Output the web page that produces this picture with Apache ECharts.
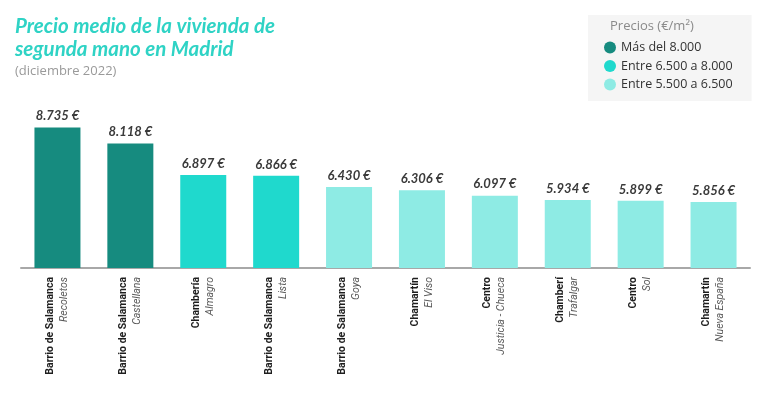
<!DOCTYPE html>
<html>
<head>
<meta charset="utf-8">
<script src="https://cdn.jsdelivr.net/npm/echarts@6/dist/echarts.min.js"></script>
<style>
  html, body { margin: 0; padding: 0; background: #fff; }
  #chart { width: 768px; height: 399px; }
</style>
</head>
<body>
<div id="chart"></div>
<script>
// datos
var districts = ["Barrio de Salamanca", "Barrio de Salamanca", "Chambería", "Barrio de Salamanca", "Barrio de Salamanca",
  "Chamartín", "Centro", "Chamberí", "Centro", "Chamartín"];
var hoods = ["Recoletos", "Castellana", "Almagro", "Lista", "Goya",
  "El Viso", "Justicia - Chueca", "Trafalgar", "Sol", "Nueva España"];
var prices = [8735, 8118, 6897, 6866, 6430, 6306, 6097, 5934, 5899, 5856];
// 0 = más del 8.000, 1 = 6.500-8.000, 2 = 5.500-6.500
var groups = [0, 0, 1, 1, 2, 2, 2, 2, 2, 2];
var groupNames = ["Más del 8.000", "Entre 6.500 a 8.000", "Entre 5.500 a 6.500"];
var groupColors = ["#168b7f", "#1fd9cd", "#8eebe4"];

function fmt(v) {
  return String(v).replace(/\B(?=(\d{3})+(?!\d))/g, ".") + " €";
}

var chart = echarts.init(document.getElementById("chart"));

var series = groupNames.map(function (name, g) {
  return {
    name: name,
    type: "bar",
    barWidth: 46,
    barGap: "-100%",
    itemStyle: { color: groupColors[g] },
    label: {
      show: true,
      position: "top",
      distance: 5,
      fontFamily: "Lato",
      fontStyle: "italic",
      fontWeight: "bold",
      fontSize: 13,
      color: "#3a3a3a",
      formatter: function (p) { return fmt(p.value); }
    },
    data: prices.map(function (v, i) { return groups[i] === g ? v : "-"; })
  };
});

var labelFont = "Roboto";

chart.setOption({
  animation: false,
  title: [
    {
      text: "Precio medio de la vivienda de\nsegunda mano en Madrid",
      subtext: "(diciembre 2022)",
      left: 15,
      top: 15,
      padding: 0,
      itemGap: 3,
      textStyle: {
        fontFamily: "Lato",
        fontStyle: "italic",
        fontWeight: "bold",
        fontSize: 20.5,
        lineHeight: 22.6,
        color: "#2fd3c5"
      },
      subtextStyle: {
        fontFamily: "Open Sans",
        fontSize: 13,
        lineHeight: 16,
        color: "#9a9a9a"
      }
    },
    {
      text: "Precios (€/m²)",
      left: 605,
      top: 15,
      z: 10,
      textStyle: {
        fontFamily: "Open Sans",
        fontWeight: "normal",
        fontSize: 13,
        color: "#8a8a8a"
      }
    }
  ],
  legend: {
    left: 588,
    top: 15,
    orient: "vertical",
    icon: "circle",
    itemWidth: 12,
    itemHeight: 12,
    itemGap: 5.5,
    padding: [26, 19, 10, 16],
    backgroundColor: "#f5f5f5",
    textStyle: {
      fontFamily: "Open Sans",
      fontSize: 12.5,
      color: "#333"
    },
    data: groupNames
  },
  grid: {
    left: 21,
    right: 18,
    top: 100,
    bottom: 131,
    outerBoundsMode: "none"
  },
  xAxis: {
    type: "category",
    data: hoods,
    axisTick: { show: false },
    axisLine: { lineStyle: { color: "#a8a8a8", width: 2 } },
    axisLabel: {
      rotate: 90,
      margin: 9,
      interval: 0,
      formatter: function (val, i) {
        return "{a|" + districts[i] + "}\n{b|" + hoods[i] + "}";
      },
      rich: {
        a: {
          fontFamily: labelFont,
          fontWeight: "bold",
          fontSize: 10.5,
          lineHeight: 14,
          color: "#1e1e1e"
        },
        b: {
          fontFamily: labelFont,
          fontStyle: "italic",
          fontSize: 10.5,
          lineHeight: 14,
          color: "#5a5a5a"
        }
      }
    }
  },
  yAxis: {
    type: "value",
    min: 3300,
    max: 9800,
    show: false,
    splitLine: { show: false }
  },
  series: series
});
</script>
</body>
</html>
